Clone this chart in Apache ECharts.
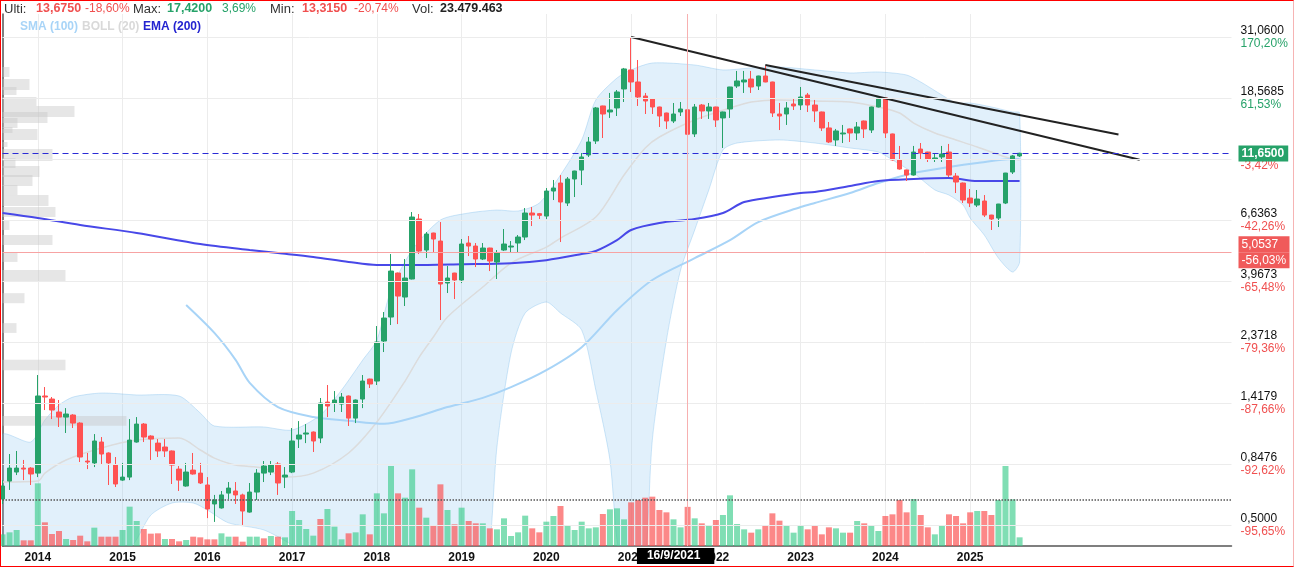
<!DOCTYPE html>
<html lang="es">
<head>
<meta charset="UTF-8">
<title>Velas mensuales</title>
<script src="https://cdn.jsdelivr.net/npm/echarts@6/dist/echarts.min.js"></script>
<style>
  body { margin: 0; background: #fff; }
  #main {
    width: 1294px; height: 567px; box-sizing: border-box;
    border: 1px solid #f00; border-right-color: #f6b4b4;
  }
</style>
</head>
<body>
<div id="main"></div>
<script>
// months from 2013-08, with empty room on the right for the trend lines
const categories = [];
for (let k = 0; k < 175; k++) {
  const m = 7 + k;
  categories.push((2013 + Math.floor(m / 12)) + '-' + String(m % 12 + 1).padStart(2, '0'));
}
const lastLabelYear = 2025;

// [open, close, low, high]
const candles = [
  [0.631,0.704,0.605,0.740],[0.734,0.819,0.681,0.922],[0.792,0.819,0.772,0.946],[0.819,0.812,0.740,0.877],
  [0.819,0.779,0.710,0.825],[0.785,1.504,0.759,1.795],[1.504,1.491,1.336,1.622],[1.466,1.336,1.238,1.491],
  [1.314,1.259,1.158,1.454],[1.259,1.292,1.101,1.358],[1.281,1.197,1.148,1.290],[1.197,0.899,0.862,1.205],
  [0.869,0.862,0.812,0.930],[0.855,1.029,0.826,1.091],[1.020,0.922,0.848,1.064],[0.930,0.855,0.710,0.935],
  [0.840,0.716,0.698,0.899],[0.740,0.759,0.735,0.855],[0.759,1.037,0.740,1.238],[1.020,1.187,1.015,1.259],
  [1.187,1.064,1.020,1.197],[1.073,1.046,0.877,1.080],[1.011,0.946,0.899,1.046],[0.978,0.946,0.899,1.046],
  [0.946,0.840,0.716,0.950],[0.812,0.740,0.675,0.833],[0.704,0.792,0.700,0.855],[0.805,0.779,0.775,0.930],
  [0.785,0.722,0.716,0.855],[0.710,0.580,0.537,0.759],[0.605,0.626,0.520,0.653],[0.585,0.653,0.582,0.675],
  [0.663,0.692,0.631,0.728],[0.675,0.653,0.605,0.728],[0.653,0.570,0.507,0.660],[0.565,0.669,0.562,0.722],
  [0.669,0.785,0.626,0.812],[0.785,0.833,0.728,0.869],[0.792,0.840,0.772,0.869],[0.848,0.722,0.653,0.862],
  [0.759,0.772,0.692,0.826],[0.792,1.029,0.785,1.148],[1.046,1.082,0.970,1.217],[1.091,1.101,1.011,1.187],
  [1.110,1.029,0.938,1.115],[1.055,1.417,1.011,1.479],[1.429,1.382,1.259,1.650],[1.417,1.454,1.314,1.568],
  [1.405,1.491,1.314,1.542],[1.504,1.248,1.168,1.510],[1.248,1.454,1.197,1.460],[1.466,1.706,1.358,1.795],
  [1.735,1.664,1.609,1.740],[1.706,2.371,1.650,2.713],[2.391,2.902,2.179,3.053],[2.927,4.314,2.736,4.980],
  [4.242,3.494,2.759,4.260],[3.465,4.068,3.212,4.774],[4.034,6.803,4.020,7.096],[6.690,5.107,4.980,6.978],
  [5.150,5.895,4.814,5.995],[5.945,5.651,5.064,5.960],[5.556,3.867,2.854,6.522],[3.899,4.068,3.584,4.500],
  [4.242,3.999,3.407,4.250],[3.999,5.418,3.899,5.651],[5.464,5.327,4.896,5.796],[5.327,4.774,4.462,5.464],
  [4.774,5.238,4.734,5.464],[5.238,4.694,4.314,5.250],[4.655,5.022,4.034,5.150],[5.150,5.418,5.107,6.149],
  [5.282,5.327,5.064,5.556],[5.464,5.747,5.064,5.845],[5.747,7.037,5.603,7.340],[7.037,6.918,6.306,7.402],
  [7.000,6.900,6.690,7.040],[6.860,8.471,6.690,8.688],[8.471,8.688,7.852,9.298],[9.063,7.721,5.510,9.695],
  [7.656,9.376,7.465,9.533],[9.376,10.03,8.053,10.05],[10.11,11.29,8.911,11.67],[11.48,12.81,11.29,13.36],
  [12.92,17.07,12.60,17.21],[17.36,16.22,13.25,17.40],[16.50,16.78,15.69,19.37],[17.07,19.53,15.95,19.86],
  [20.03,23.72,17.95,23.92],[23.52,21.25,19.53,31.06],[21.25,18.72,17.36,25.58],[18.88,18.10,16.22,19.37],
  [18.41,17.21,16.22,18.45],[17.21,15.95,14.54,17.25],[16.36,15.29,14.30,16.40],[15.29,16.22,15.03,17.80],
  [16.50,16.92,15.95,17.95],[16.80,13.675,13.315,17.42],[13.71,17.21,13.36,17.65],[17.50,16.64,15.56,17.65],
  [16.64,17.21,15.56,17.80],[17.21,15.42,14.54,17.25],[15.69,16.50,12.18,16.55],[16.92,20.37,15.69,20.40],
  [20.54,21.43,20.20,23.32],[21.25,21.61,19.37,23.32],[21.79,20.37,19.37,23.32],[20.54,22.35,19.86,22.40],
  [22.35,21.25,21.20,24.31],[21.25,16.36,15.82,21.30],[16.22,15.95,14.17,17.80],[16.22,17.07,14.79,17.95],
  [17.65,17.36,16.78,18.41],[17.50,18.72,16.78,20.37],[19.04,17.50,16.50,19.37],[17.50,16.64,15.16,18.26],
  [16.50,14.42,14.06,16.55],[14.42,12.81,12.70,15.16],[13.03,14.06,12.39,14.30],[13.71,13.82,12.70,14.79],
  [14.30,13.82,12.81,14.35],[13.82,14.54,13.03,15.16],[15.29,14.30,13.25,15.35],[14.17,17.21,13.82,17.25],
  [17.21,18.57,17.15,18.60],[18.57,13.82,13.25,18.60],[13.71,11.01,10.95,13.75],[11.01,10.20,10.15,12.39],
  [10.12,9.695,9.22,10.15],[9.695,11.77,9.65,12.39],[12.07,11.67,11.10,12.70],[11.77,11.10,10.82,11.80],
  [11.10,11.20,10.82,11.67],[11.29,11.57,10.82,12.39],[11.77,9.695,9.533,12.60],[9.61,9.14,8.33,9.86],
  [9.063,7.852,7.656,9.10],[7.985,7.656,7.402,8.617],[7.527,7.918,7.402,8.545],[7.787,6.918,6.803,8.190],
  [6.918,6.690,6.100,6.930],[6.746,7.592,6.253,7.600],[7.656,9.860,7.590,9.870],[9.944,11.39,9.78,11.48],
  [11.39,11.65,11.29,11.70]
];

// monthly volume, millions
const volumes = [
  7.0,8.2,9.6,3.4,3.4,37.6,14.2,7.2,9.0,4.2, 3.6,6.2,2.8,11.0,5.6,5.6,5.6,9.6,23.6,15.0,
  10.2,7.4,7.6,4.2,4.2,2.8,3.6,5.6,5.2,4.0, 4.0,7.6,5.6,5.6,2.6,5.6,5.6,4.6,6.0,5.6,
  5.2,21.0,15.6,10.2,6.2,16.2,22.2,11.6,4.0,7.6, 8.2,19.0,7.0,31.6,19.6,48.0,31.6,29.0,46.0,23.0,
  17.0,12.2,37.0,21.6,13.0,23.0,15.0,13.6,13.6,10.6, 10.0,16.6,6.0,8.2,18.2,10.6,8.2,14.6,18.0,24.0,
  12.6,9.6,14.6,10.6,11.2,19.2,22.0,22.6,16.0,26.2, 27.6,29.0,29.6,21.6,20.2,16.0,11.2,23.48,16.6,13.6,
  12.6,15.6,18.6,30.4,13.2,10.0,8.0,10.0,12.0,19.6, 15.2,12.6,8.0,12.0,10.0,12.0,7.0,11.2,10.6,8.0,
  8.0,15.0,13.6,12.0,9.0,18.0,19.0,27.6,20.2,28.2, 18.6,11.2,7.0,12.6,19.0,18.0,13.6,20.2,21.0,21.0,
  18.6,27.6,48.0,28.0,5.2
];
// colour of each volume bar as read: g = up, r = down
const volumeDir =
  'gggrrgrrrg' + 'rrrgrrrggg' + 'rrrgrrgrrr' + 'rggrrggrgr' + 'gggggrgggr' +
  'ggrgggrggr' + 'grrgrgrrgr' + 'gggggrrggr' + 'gggggrgggr' + 'rrrrrggrgr' +
  'grggggrgrr' + 'rgggrrrrgg' + 'rgrggrrrrg' + 'rrggrrrrgr' + 'rgggg';
const volumeAverage = 27.5;

// indicators, [month index, price]
const bollUpper = [[0,1.082],[4,1.020],[6,1.228],[8,1.394],[10,1.491],[14,1.542],[19,1.517],[25,1.504],
  [28,1.303],[30,1.168],[37,1.158],[41,1.129],[45,1.281],[48,1.581],[51,2.037],[53,2.411],[55,3.676],
  [58,5.150],[62,6.633],[66,7.037],[70,7.217],[73,7.157],[76,7.656],[79,9.695],[82,13.03],[84,18.26],
  [87,21.97],[89,23.52],[92,24.94],[98,24.52],[102,23.52],[106,23.92],[110,24.11],[115,23.52],[120,22.93],
  [124,23.12],[128,22.54],[130,21.25],[133,19.04],[135,17.80],[137,17.80],[140,17.21],[143,16.50],[144,16.36]];
const bollLower = [[0,0.347],[10,0.362],[18,0.418],[21,0.551],[24,0.610],[27,0.610],[29,0.575],[32,0.516],
  [37,0.486],[41,0.428],[45,0.362],[55,0.269],[62,0.269],[68,0.347],[69,0.428],[70,0.978],[72,2.161],
  [74,3.028],[77,3.322],[79,3.028],[82,2.622],[84,1.581],[86,0.877],[87,0.447],[89,0.228],[91,0.377],
  [92,1.037],[94,2.411],[96,4.35],[98,6.10],[100,8.55],[102,11.98],[104,12.70],[110,13.03],[115,12.70],
  [120,12.18],[124,11.77],[126,11.01],[129,9.860],[132,8.55],[134,8.19],[136,7.527],[137,6.746],
  [139,5.845],[141,4.814],[143,4.278],[144,4.655]];
const bollMid = [[0,0.728],[5,0.734],[6,0.785],[9,0.877],[14,0.970],[19,1.037],[25,1.055],[28,0.954],
  [30,0.891],[33,0.840],[37,0.819],[40,0.759],[44,0.785],[49,0.930],[53,1.207],[57,1.706],[59,2.089],
  [61,2.473],[63,2.927],[68,3.770],[72,4.616],[77,5.282],[79,5.699],[84,6.803],[88,9.695],[91,12.18],
  [93,13.36],[98,15.42],[103,17.07],[106,17.95],[110,18.26],[115,18.10],[120,17.95],[124,17.21],
  [127,16.36],[129,15.03],[132,13.82],[135,13.03],[138,12.28],[142,11.29],[144,11.01]];
const sma100 = [[26,3.24],[30,2.56],[33,2.04],[35,1.68],[39,1.37],[44,1.26],[49,1.22],[54,1.19],[58,1.25],
  [63,1.37],[68,1.48],[72,1.62],[77,1.87],[82,2.27],[87,3.10],[92,4.00],[98,4.81],[103,5.60],[107,6.52],
  [113,7.40],[115,7.66],[120,8.33],[124,9.06],[129,9.86],[134,10.37],[138,10.73],[143,11.10],[144,11.10]];
const ema200 = [[0,7.04],[5,6.75],[11,6.36],[19,5.95],[28,5.42],[35,5.15],[39,5.02],[44,4.86],[49,4.66],
  [53,4.54],[58,4.54],[65,4.57],[72,4.61],[77,4.73],[82,4.98],[84,5.11],[87,5.60],[89,6.10],[93,6.47],
  [98,6.69],[102,7.04],[105,7.72],[109,8.05],[113,8.33],[115,8.40],[120,8.84],[124,9.22],[129,9.38],
  [134,9.46],[138,9.22],[144,9.22]];
const trendA = [[89,31.06],[161,11.03]];
const trendB = [[108,24.50],[158,13.65]];

// volume at price on the left edge: [high, low, volume]
const volumeProfile = [[24.11,22.16,7],[21.79,19.86,27],[20.37,19.04,14],[18.72,17.36,34],[17.36,15.82,72],
  [16.50,15.03,45],[15.69,14.42,15],[14.54,13.82,10],[14.30,13.03,35],[12.81,12.28,5],[12.07,10.91,50],
  [11.20,10.29,13],[10.46,9.53,37],[9.70,8.84,30],[8.91,8.19,15],[8.19,7.47,46],[7.40,6.80,53],
  [6.63,6.10,7],[5.85,5.37,50],[5.06,4.66,15],[4.35,3.97,63],[3.58,3.29,22],[2.78,2.56,14],
  [2.04,1.87,63],[1.27,1.17,124]];

const lastPrice = 11.65;
const refPrice = 5.0537;
const crossIndex = 97;

const tickPrices = ['0,5000','0,8476','1,4179','2,3718','3,9673','6,6363','11,1013','18,5685','31,0600'];
const tickPct = ['-95,65%','-92,62%','-87,66%','-79,36%','-65,48%','-42,26%','-3,42%','61,53%','170,20%'];

// the price axis is logarithmic: one step is a factor 1.6727 starting at 0.8476
const BASE = 0.8476, STEP = 1.6727;
const toU = p => Math.log(p / BASE) / Math.log(STEP);
const ptsU = arr => arr.map(d => [d[0], toU(d[1])]);
const tickSteps = tickPrices.map((t, k) => k - 1);

const UP = '#26a269', DOWN = '#ff5252';
const isYear = (i, v) => String(v).slice(5) === '01' && +String(v).slice(0, 4) <= lastLabelYear;

// header texts
const header = [
  { x: 3, t: 'Ulti:', c: '#333', f: '13px Arial' },
  { x: 35, t: '13,6750', c: '#f05050', f: 'bold 12.5px Arial' },
  { x: 84, t: '-18,60%', c: '#f05050', f: '12px Arial' },
  { x: 132, t: 'Max:', c: '#333', f: '13px Arial' },
  { x: 166, t: '17,4200', c: '#26a269', f: 'bold 12.5px Arial' },
  { x: 221, t: '3,69%', c: '#26a269', f: '12px Arial' },
  { x: 269, t: 'Min:', c: '#333', f: '13px Arial' },
  { x: 301, t: '13,3150', c: '#f05050', f: 'bold 12.5px Arial' },
  { x: 353, t: '-20,74%', c: '#f05050', f: '12px Arial' },
  { x: 411, t: 'Vol:', c: '#333', f: '13px Arial' },
  { x: 439, t: '23.479.463', c: '#222', f: 'bold 12.5px Arial' }
];
const legendItems = [
  { x: 19, t: 'SMA (100)', c: '#a8d4f7' },
  { x: 81, t: 'BOLL (20)', c: '#d9d9d9' },
  { x: 142, t: 'EMA (200)', c: '#2323d0' }
];

var chart = echarts.init(document.getElementById('main'));

var option = {
  animation: false,
  textStyle: { fontFamily: 'Arial, "Liberation Sans", sans-serif' },
  graphic: header.map(h => ({
    type: 'text', x: h.x, y: 8, silent: true,
    style: { text: h.t, fill: h.c, font: h.f, verticalAlign: 'middle' }
  })).concat(legendItems.map(h => ({
    type: 'text', x: h.x, y: 26, silent: true,
    style: { text: h.t, fill: h.c, font: 'bold 12px Arial', verticalAlign: 'middle' }
  }))),
  grid: [
    { left: 1.5, right: 61.5, top: 13, bottom: 20 },
    { left: 1.5, right: 61.5, top: 445, bottom: 20 }
  ],
  xAxis: [{
    type: 'category', data: categories, boundaryGap: false, gridIndex: 0,
    axisLine: { onZero: false, lineStyle: { color: '#555', width: 1.5 } },
    axisTick: { show: false },
    axisLabel: {
      interval: isYear, formatter: v => v.slice(0, 4),
      color: '#111', fontWeight: 'bold', fontSize: 12, margin: 6
    },
    splitLine: { show: true, interval: isYear, lineStyle: { color: '#ececec' } }
  }, {
    type: 'category', data: categories, boundaryGap: false, gridIndex: 1, show: false
  }, {
    type: 'value', gridIndex: 0, min: 0, max: 1229, show: false
  }],
  yAxis: [{
    type: 'value', gridIndex: 0, position: 'right',
    min: -1.3443, max: 7.377,
    axisLine: { show: true, lineStyle: { color: '#555', width: 1.5 } },
    axisTick: { show: false, customValues: tickSteps },
    splitLine: { show: false },
    axisLabel: {
      margin: 9, customValues: tickSteps,
      formatter: function (v) {
        const idx = Math.round(v) + 1;
        if (idx < 0 || idx >= tickPrices.length) return '';
        const pct = tickPct[idx];
        return '{p|' + tickPrices[idx] + '}\n{' + (pct[0] === '-' ? 'r' : 'g') + '|' + pct + '}';
      },
      rich: {
        p: { color: '#111', fontSize: 12, lineHeight: 13 },
        g: { color: '#26a269', fontSize: 12, lineHeight: 13 },
        r: { color: '#f05050', fontSize: 12, lineHeight: 13 }
      }
    }
  }, {
    type: 'value', gridIndex: 1, min: 0, max: 60, show: false
  }],
  series: [{
    name: 'BOLL band', type: 'custom', xAxisIndex: 0, yAxisIndex: 0, z: 1, silent: true, clip: true,
    data: [[0, 0]],
    renderItem: function (params, api) {
      const pts = bollUpper.map(d => api.coord([d[0], toU(d[1])]))
        .concat(bollLower.slice().reverse().map(d => api.coord([d[0], toU(d[1])])));
      const cs = params.coordSys;
      return {
        type: 'polygon',
        shape: { points: pts, smooth: 0.25 },
        clipPath: { type: 'rect', shape: { x: cs.x, y: cs.y, width: cs.width, height: cs.height } },
        style: { fill: 'rgba(135,196,240,0.25)', stroke: 'rgba(120,185,235,0.35)', lineWidth: 1 }
      };
    },
    // horizontal price grid on the axis steps
    markLine: {
      silent: true, symbol: ['none', 'none'], label: { show: false },
      lineStyle: { color: '#ececec', type: 'solid', width: 1 },
      data: tickSteps.map(v => ({ yAxis: v }))
    }
  }, {
    name: 'VP', type: 'custom', xAxisIndex: 2, yAxisIndex: 0, z: 1, silent: true,
    data: volumeProfile.map(d => [d[2], toU(d[0]), toU(d[1])]),
    encode: { x: 0, y: [1, 2] },
    renderItem: function (params, api) {
      const a = api.coord([0, api.value(1)]);
      const b = api.coord([api.value(0), api.value(2)]);
      return {
        type: 'rect',
        shape: { x: a[0], y: a[1], width: b[0] - a[0], height: b[1] - a[1] },
        style: { fill: 'rgba(200,200,200,0.45)' }
      };
    }
  }, {
    name: 'BOLL (20)', type: 'line', data: ptsU(bollMid), smooth: 0.3, showSymbol: false, z: 2,
    lineStyle: { color: '#dcdcdc', width: 1.5 }
  }, {
    name: 'SMA (100)', type: 'line', data: ptsU(sma100), smooth: 0.3, showSymbol: false, z: 2,
    lineStyle: { color: '#a8d4f7', width: 2 }
  }, {
    name: 'EMA (200)', type: 'line', data: ptsU(ema200), smooth: 0.3, showSymbol: false, z: 2,
    lineStyle: { color: '#4848e8', width: 2 }
  }, {
    name: 'trend A', type: 'line', data: ptsU(trendA), showSymbol: false, z: 4,
    lineStyle: { color: '#222', width: 2 }
  }, {
    name: 'trend B', type: 'line', data: ptsU(trendB), showSymbol: false, z: 4,
    lineStyle: { color: '#222', width: 2 }
  }, {
    name: 'precio', type: 'candlestick', z: 3, barWidth: 5,
    data: candles.map(c => c.map(toU)),
    itemStyle: { color: UP, color0: DOWN, borderColor: UP, borderColor0: DOWN, borderWidth: 1 },
    markLine: {
      silent: true, symbol: ['none', 'none'], animation: false,
      data: [{
        yAxis: toU(lastPrice),
        lineStyle: { color: '#2b2bd6', type: [6, 4], width: 1.2 },
        label: {
          position: 'end', distance: 7, formatter: '11,6500',
          color: '#fff', fontWeight: 'bold', fontSize: 12,
          backgroundColor: UP, padding: [2, 4, 2, 3]
        }
      }, {
        yAxis: toU(refPrice),
        lineStyle: { color: '#f7a3a3', type: 'solid', width: 1 },
        label: {
          position: 'end', distance: 7,
          formatter: '{a|5,0537}\n{a|-56,03%}',
          rich: {
            a: { color: '#fff', fontSize: 12, backgroundColor: '#f05a5a', padding: [2, 3, 2, 3], width: 45, lineHeight: 16 }
          }
        }
      }, {
        xAxis: categories[crossIndex],
        lineStyle: { color: '#f7b0b0', type: 'solid', width: 1 },
        label: {
          position: 'start', distance: 2, offset: [-12, 0], formatter: '16/9/2021',
          color: '#fff', fontWeight: 'bold', fontSize: 12,
          backgroundColor: '#000', padding: [2, 14, 2, 10]
        }
      }]
    }
  }, {
    name: 'Volumen', type: 'bar', xAxisIndex: 1, yAxisIndex: 1, barWidth: 6, z: 3,
    data: volumes.map((v, i) => ({
      value: v,
      itemStyle: { color: volumeDir[i] === 'g' ? 'rgba(60,205,140,0.65)' : 'rgba(250,80,80,0.68)' }
    })),
    markLine: {
      silent: true, symbol: ['none', 'none'], label: { show: false },
      lineStyle: { color: '#555', type: 'dotted', width: 1.5 },
      data: [{ yAxis: volumeAverage }]
    }
  }]
};

option && chart.setOption(option);
</script>
</body>
</html>
